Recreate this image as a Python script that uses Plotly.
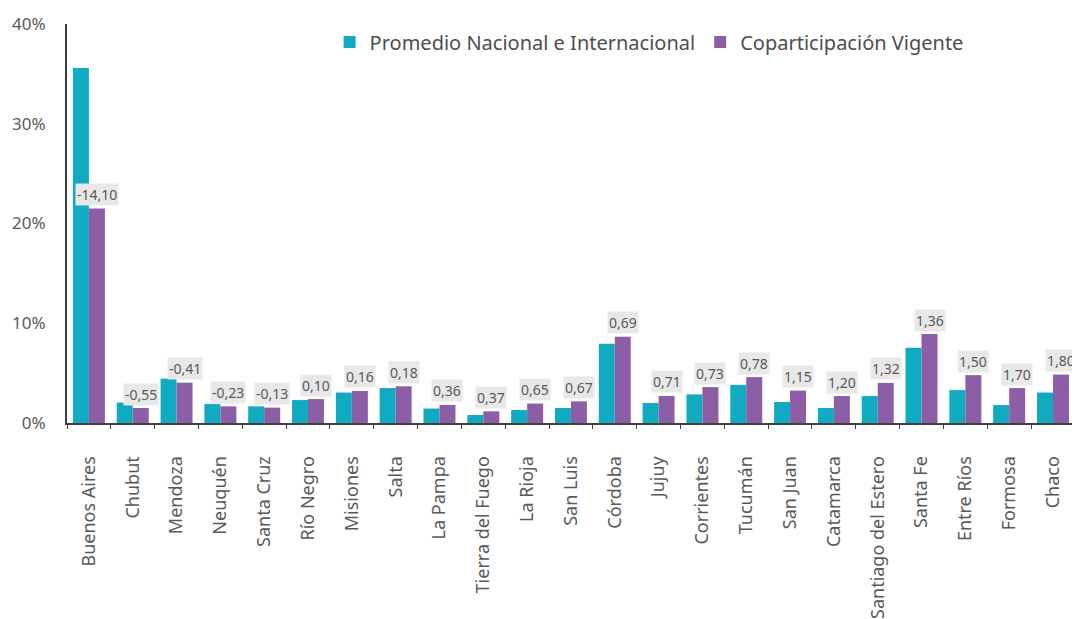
import plotly.graph_objects as go

provincias = ["Buenos Aires", "Chubut", "Mendoza", "Neuquén", "Santa Cruz", "Río Negro",
              "Misiones", "Salta", "La Pampa", "Tierra del Fuego", "La Rioja", "San Luis",
              "Córdoba", "Jujuy", "Corrientes", "Tucumán", "San Juan", "Catamarca",
              "Santiago del Estero", "Santa Fe", "Entre Ríos", "Formosa", "Chaco"]
promedio = [35.6, 2.05, 4.45, 1.9, 1.67, 2.3, 3.05, 3.5, 1.45, 0.8, 1.3, 1.5,
            7.95, 2.0, 2.87, 3.82, 2.1, 1.5, 2.7, 7.55, 3.3, 1.8, 3.05]
coparticipacion = [21.5, 1.5, 4.04, 1.67, 1.54, 2.4, 3.21, 3.68, 1.81, 1.17, 1.95, 2.17,
                   8.64, 2.71, 3.6, 4.6, 3.25, 2.7, 4.02, 8.91, 4.8, 3.5, 4.85]
diferencias = ["-14,10", "-0,55", "-0,41", "-0,23", "-0,13", "0,10", "0,16", "0,18", "0,36",
               "0,37", "0,65", "0,67", "0,69", "0,71", "0,73", "0,78", "1,15", "1,20",
               "1,32", "1,36", "1,50", "1,70", "1,80"]
yticks = [0, 10, 20, 30, 40]
yticklabels = ["0%", "10%", "20%", "30%", "40%"]

TEAL = "#10aac1"
PURPLE = "#8b5ea6"
FONT = "Noto Sans"

fig = go.Figure()
fig.add_trace(go.Bar(x=provincias, y=promedio, name="Promedio Nacional e Internacional",
                     marker=dict(color=TEAL, line=dict(width=0))))
fig.add_trace(go.Bar(x=provincias, y=coparticipacion, name="Coparticipación Vigente",
                     marker=dict(color=PURPLE, line=dict(width=0))))

for p, v, t in zip(provincias, coparticipacion, diferencias):
    fig.add_annotation(x=p, y=v, text=t, xref="x", yref="y", showarrow=False,
                       xshift=8, yshift=14, yanchor="middle",
                       font=dict(family=FONT, size=14, color="#595959"),
                       bgcolor="#e8e8e8", borderpad=1)

# the page body has an 8px default margin, so the figure is shrunk by 8px
fig.update_layout(
    width=1072, height=611,
    margin=dict(l=59, r=3, t=16, b=196, autoexpand=False),
    paper_bgcolor="white", plot_bgcolor="white",
    barmode="group", bargap=0.27, bargroupgap=0,
    font=dict(family=FONT, color="#595959"),
    legend=dict(orientation="h", x=0.26, y=0.955, xanchor="left", yanchor="middle",
                font=dict(family=FONT, size=20, color="#4d4d4d"),
                bgcolor="rgba(0,0,0,0)", traceorder="normal"),
    showlegend=True,
)
fig.update_yaxes(range=[0, 40], tickvals=yticks, ticktext=yticklabels, automargin=False,
                 showgrid=False, zeroline=False, showline=True, linecolor="#404040",
                 linewidth=2, ticks="", ticklabelstandoff=16,
                 tickfont=dict(family=FONT, size=17, color="#595959"))
fig.update_xaxes(showgrid=False, showline=True, linecolor="#404040", linewidth=2,
                 automargin=False,
                 ticks="outside", tickson="boundaries", ticklen=4, tickcolor="#404040",
                 tickangle=-90, ticklabelstandoff=24,
                 tickfont=dict(family=FONT, size=18, color="#595959"))

fig.write_html("out.html")
